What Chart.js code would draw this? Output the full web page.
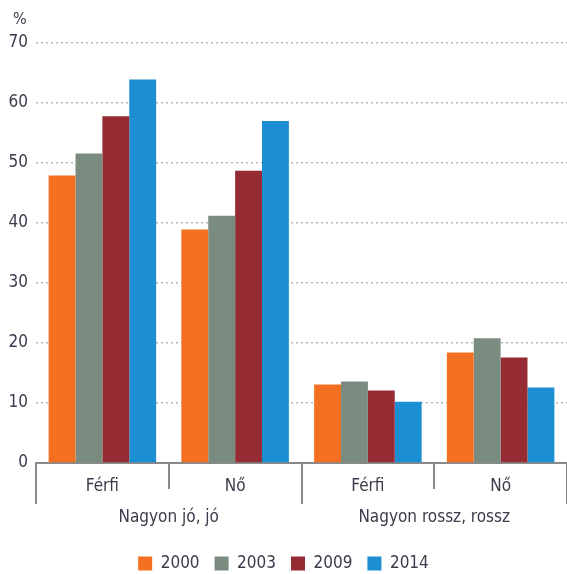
<!DOCTYPE html>
<html>
<head>
<meta charset="utf-8">
<script src="https://cdn.jsdelivr.net/npm/chart.js@4"></script>
<style>
  html, body { margin: 0; padding: 0; background: #fff; }
  #wrap { width: 567px; height: 574px; position: relative; }
</style>
</head>
<body>
<div id="wrap"><canvas id="healthChart"></canvas></div>
<script>
// Adatok
const categories = ['Férfi', 'Nő', 'Férfi', 'Nő'];
const groups = ['Nagyon jó, jó', 'Nagyon rossz, rossz'];
const years = ['2000', '2003', '2009', '2014'];
const values2000 = [47.9, 38.9, 13.1, 18.4];
const values2003 = [51.6, 41.2, 13.6, 20.8];
const values2009 = [57.8, 48.7, 12.1, 17.6];
const values2014 = [63.9, 57.0, 10.2, 12.6];
const yTicks = [0, 10, 20, 30, 40, 50, 60, 70];

const colors = ['#f37021', '#7a8b80', '#952b33', '#1b8fd2'];
const fontFamily = '"Liberation Sans Narrow", "DejaVu Sans Condensed", sans-serif';
const textColor = '#3b3b4b';
const axisColor = '#8a8a8a';

// Csoport elválasztók és feliratok
const groupAxisPlugin = {
    id: 'groupAxis',
    afterLayout(chart) {
        // jelmagyarázat lejjebb
        if (chart.legend) {
            chart.legend.top += 8;
            chart.legend.bottom += 8;
            if (chart.legend.legendHitBoxes) {
                chart.legend.legendHitBoxes.forEach(b => { b.top += 8; });
            }
        }
    },
    afterDraw(chart) {
        const ctx = chart.ctx;
        const x = chart.scales.x;
        const bottom = chart.chartArea.bottom;
        const step = x.getPixelForValue(1) - x.getPixelForValue(0);

        ctx.save();
        ctx.strokeStyle = axisColor;
        ctx.lineWidth = 2;
        for (let i = 0; i <= categories.length; i++) {
            const px = Math.round(x.getPixelForValue(0) - step / 2 + i * step);
            if (px > chart.width) continue;
            const len = (i % 2 === 0) ? 41 : 26;
            ctx.beginPath();
            ctx.moveTo(px, bottom);
            ctx.lineTo(px, bottom + len);
            ctx.stroke();
        }

        ctx.fillStyle = textColor;
        ctx.font = '17px ' + fontFamily;
        ctx.textAlign = 'center';
        ctx.textBaseline = 'middle';
        groups.forEach((g, gi) => {
            const cx = (x.getPixelForValue(gi * 2) + x.getPixelForValue(gi * 2 + 1)) / 2;
            ctx.fillText(g, cx, bottom + 55);
        });

        // % jel
        ctx.textAlign = 'left';
        ctx.font = '16px ' + fontFamily;
        ctx.fillText('%', 13, 20);
        ctx.restore();
    }
};

const ctx = document.getElementById('healthChart').getContext('2d');
const series = [values2000, values2003, values2009, values2014];

new Chart(ctx, {
    type: 'bar',
    data: {
        labels: categories,
        datasets: years.map((y, i) => ({
            label: y,
            data: series[i],
            backgroundColor: colors[i],
            borderWidth: 0,
            categoryPercentage: 0.81,
            barPercentage: 1.0
        }))
    },
    options: {
        responsive: true,
        maintainAspectRatio: false,
        animation: false,
        layout: {
            padding: { top: 43, right: 0, left: 0, bottom: 0 }
        },
        scales: {
            y: {
                min: 0,
                max: 70,
                afterBuildTicks: function(scale) {
                    scale.ticks = yTicks.map(v => ({ value: v }));
                },
                afterFit: function(scale) {
                    scale.width = 36;
                },
                grid: {
                    color: '#b5b5b5',
                    lineWidth: 1.5,
                    drawTicks: false
                },
                border: { display: false, dash: [2, 3] },
                ticks: {
                    color: textColor,
                    padding: 8,
                    font: { family: fontFamily, size: 17 }
                }
            },
            x: {
                afterFit: function(scale) {
                    scale.height = 69;
                },
                grid: { display: false },
                border: { display: true, color: axisColor, width: 2 },
                ticks: {
                    color: textColor,
                    padding: 5,
                    font: { family: fontFamily, size: 17 }
                }
            }
        },
        plugins: {
            legend: {
                position: 'bottom',
                labels: {
                    boxWidth: 14,
                    boxHeight: 14,
                    padding: 15,
                    color: textColor,
                    font: { family: fontFamily, size: 17 }
                }
            },
            tooltip: { enabled: false }
        }
    },
    plugins: [groupAxisPlugin]
});
</script>
</body>
</html>
